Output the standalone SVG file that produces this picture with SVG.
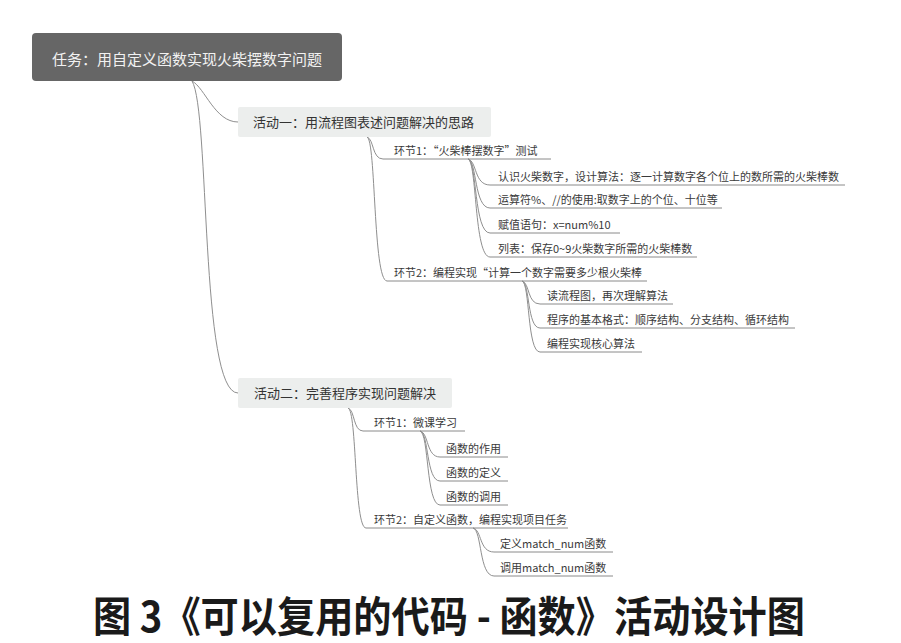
<svg xmlns="http://www.w3.org/2000/svg" width="901" height="643" viewBox="0 0 901 643">
<style>
.t{font-family:"Noto Sans CJK SC","Liberation Sans",sans-serif;fill:#3a3a3a;font-size:11px}
.ul{stroke:#8a8a8a;stroke-width:1;fill:none}
.c{stroke:#8f8f8f;stroke-width:1;fill:none}
.box{fill:#eceeed}
.bt{font-family:"Noto Sans CJK SC","Liberation Sans",sans-serif;fill:#333;font-size:13px}
</style>
<rect x="0" y="0" width="901" height="643" fill="#ffffff"/>
<g id="connectors">
<path class="c" d="M192,81 C205,88 215,122 238,122"/>
<path class="c" d="M192,81 C210,110 200,393 238,393"/>
<path class="c" d="M367,137 C374,139 372,159 383,159"/>
<path class="c" d="M367,137 C376,139 373,281 387,281"/>
<path class="c" d="M468,159 C477,161 474,185 490,185"/>
<path class="c" d="M468,159 C477,161 474,208 490,208"/>
<path class="c" d="M468,159 C477,161 474,233 490,233"/>
<path class="c" d="M468,159 C477,161 474,257 490,257"/>
<path class="c" d="M522,281 C530,283 527,304 540,304"/>
<path class="c" d="M522,281 C530,283 527,328 540,328"/>
<path class="c" d="M522,281 C530,283 527,352 540,352"/>
<path class="c" d="M348,408 C355,410 353,431 363,431"/>
<path class="c" d="M348,408 C357,410 354,528 366,528"/>
<path class="c" d="M420,431 C429,433 426,457 440,457"/>
<path class="c" d="M420,431 C429,433 426,481 440,481"/>
<path class="c" d="M420,431 C429,433 426,505 440,505"/>
<path class="c" d="M473,528 C482,530 479,552 494,552"/>
<path class="c" d="M473,528 C482,530 479,576 494,576"/>
</g>
<g id="root">
<rect x="32" y="33" width="310" height="48" rx="4" fill="#666666"/>
<text x="52" y="65" font-family="Noto Sans CJK SC,Liberation Sans,sans-serif" font-size="15" fill="#f2f2f2">任务：用自定义函数实现火柴摆数字问题</text>
</g>
<g id="act1">
<rect class="box" x="238" y="107" width="253" height="30" rx="2"/>
<text class="bt" x="253" y="127">活动一：用流程图表述问题解决的思路</text>
</g>
<g id="act2">
<rect class="box" x="238" y="378" width="214" height="30" rx="2"/>
<text class="bt" x="254" y="398">活动二：完善程序实现问题解决</text>
</g>
<g id="a1s1"><text class="t" x="394" y="155">环节1：“火柴棒摆数字”测试</text><line class="ul" x1="383" y1="159" x2="551" y2="159"/></g>
<g id="a1s1n1"><text class="t" x="498" y="181">认识火柴数字，设计算法：逐一计算数字各个位上的数所需的火柴棒数</text><line class="ul" x1="490" y1="185" x2="845" y2="185"/></g>
<g id="a1s1n2"><text class="t" x="498" y="204">运算符%、//的使用:取数字上的个位、十位等</text><line class="ul" x1="490" y1="208" x2="722" y2="208"/></g>
<g id="a1s1n3"><text class="t" x="498" y="229">赋值语句：x=num%10</text><line class="ul" x1="490" y1="233" x2="620" y2="233"/></g>
<g id="a1s1n4"><text class="t" x="498" y="253">列表：保存0~9火柴数字所需的火柴棒数</text><line class="ul" x1="490" y1="257" x2="697" y2="257"/></g>
<g id="a1s2"><text class="t" x="394" y="277">环节2：编程实现“计算一个数字需要多少根火柴棒</text><line class="ul" x1="387" y1="281" x2="647" y2="281"/></g>
<g id="a1s2n1"><text class="t" x="547" y="300">读流程图，再次理解算法</text><line class="ul" x1="540" y1="304" x2="673" y2="304"/></g>
<g id="a1s2n2"><text class="t" x="547" y="324">程序的基本格式：顺序结构、分支结构、循环结构</text><line class="ul" x1="540" y1="328" x2="795" y2="328"/></g>
<g id="a1s2n3"><text class="t" x="547" y="348">编程实现核心算法</text><line class="ul" x1="540" y1="352" x2="642" y2="352"/></g>
<g id="a2s1"><text class="t" x="374" y="427">环节1：微课学习</text><line class="ul" x1="363" y1="431" x2="465" y2="431"/></g>
<g id="a2s1n1"><text class="t" x="446" y="453">函数的作用</text><line class="ul" x1="440" y1="457" x2="508" y2="457"/></g>
<g id="a2s1n2"><text class="t" x="446" y="477">函数的定义</text><line class="ul" x1="440" y1="481" x2="508" y2="481"/></g>
<g id="a2s1n3"><text class="t" x="446" y="501">函数的调用</text><line class="ul" x1="440" y1="505" x2="508" y2="505"/></g>
<g id="a2s2"><text class="t" x="374" y="524">环节2：自定义函数，编程实现项目任务</text><line class="ul" x1="366" y1="528" x2="568" y2="528"/></g>
<g id="a2s2n1"><text class="t" x="500" y="548">定义match_num函数</text><line class="ul" x1="494" y1="552" x2="613" y2="552"/></g>
<g id="a2s2n2"><text class="t" x="500" y="572">调用match_num函数</text><line class="ul" x1="494" y1="576" x2="613" y2="576"/></g>
<g id="caption">
<text x="93" y="632" font-family="Noto Sans CJK SC,Liberation Sans,sans-serif" font-size="42" font-weight="bold" fill="#1a1a1a" textLength="712" lengthAdjust="spacingAndGlyphs">图 3《可以复用的代码 - 函数》活动设计图</text>
</g>
</svg>
